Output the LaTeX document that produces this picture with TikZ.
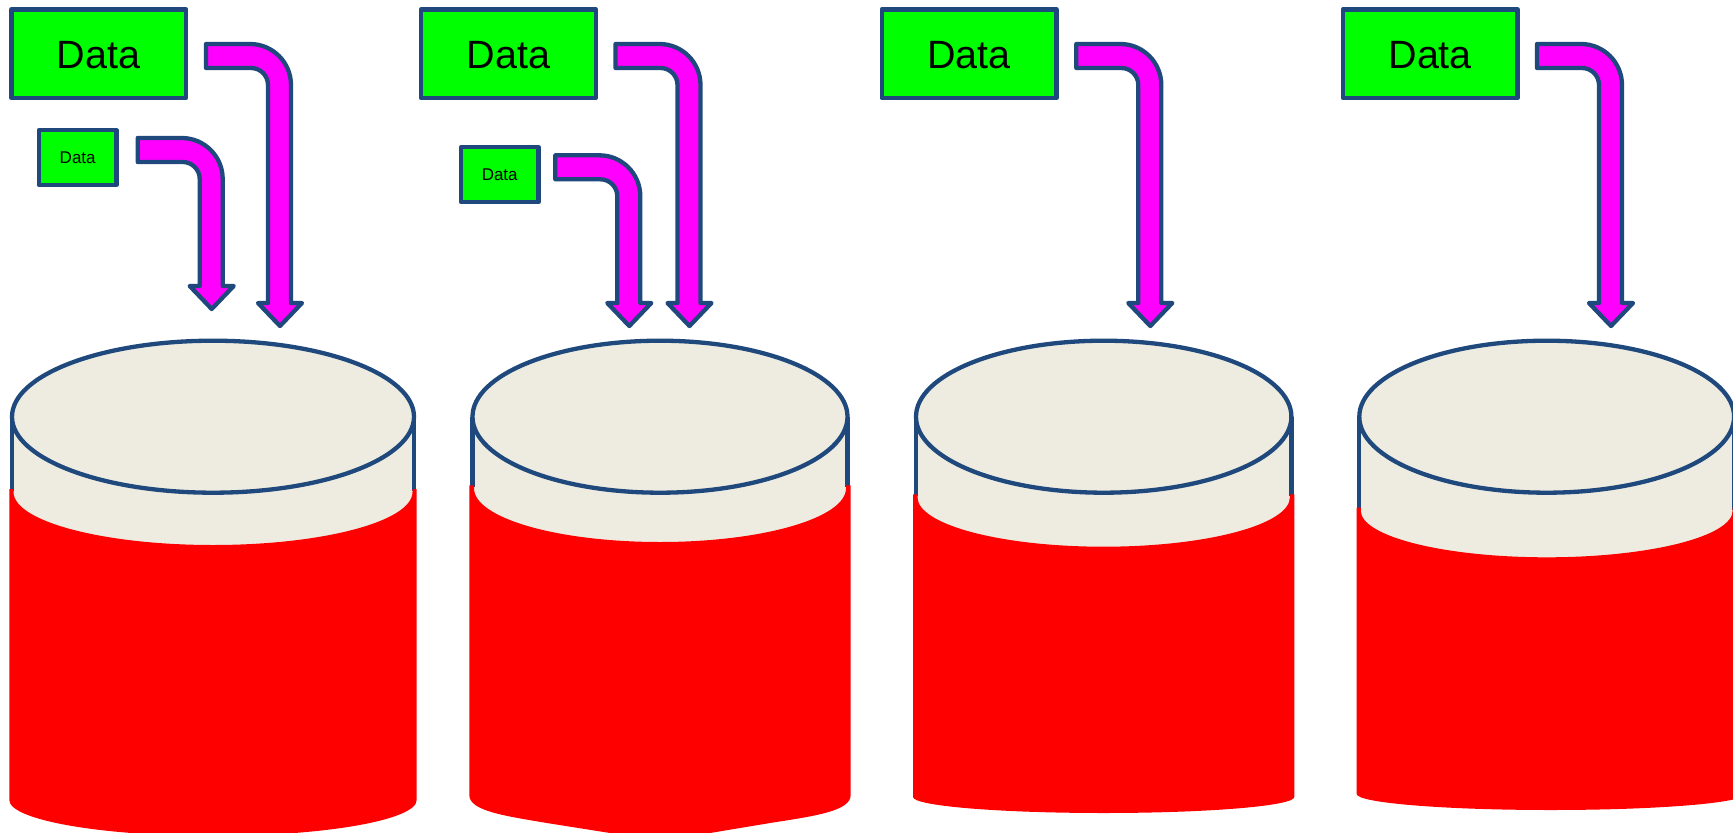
\documentclass[tikz,border=0pt]{standalone}
\usepackage{fontspec}
\setmainfont{Liberation Sans}
\usetikzlibrary{shapes.geometric}
\definecolor{navy}{HTML}{1F497D}
\definecolor{beige}{HTML}{EEECE1}
\definecolor{limeg}{HTML}{00FF00}
\definecolor{magen}{HTML}{FF00FF}
\definecolor{redd}{HTML}{FF0000}
\tikzset{
  bigbox/.style={draw=navy,fill=limeg,line width=4.3pt,line join=round,inner sep=0pt,minimum width=174.7pt,minimum height=88.7pt,text height=29.2pt,text depth=0pt,font=\fontsize{39.5}{39.5}\selectfont},
  smallbox/.style={draw=navy,fill=limeg,line width=4.3pt,line join=round,inner sep=0pt,minimum width=77.3pt,minimum height=55pt,text height=11pt,text depth=0pt,font=\fontsize{17}{17}\selectfont},
  blockarrow/.style={draw=navy,fill=magen,line width=4.3pt,line join=round},
  topface/.style={draw=navy,fill=beige,line width=4.3pt},
  wall/.style={draw=navy,line width=4.3pt},
  redbody/.style={fill=redd,draw=none}
}
% #1 tail left x, #2 tail top y, #3 tip y
\newcommand{\bentarrow}[3]{%
  \draw[blockarrow] (#1,#2) -- ++(44,0) arc[start angle=-90,end angle=0,radius=41]
    -- (#1+85,#3-23) -- (#1+96,#3-23) -- (#1+74,#3) -- (#1+52,#3-23) -- (#1+62,#3-23)
    -- (#1+62,#2+41) arc[start angle=0,end angle=-90,radius=17] -- (#1,#2+24) -- cycle;
}
% #1 cx, #2 rx, #3 red left, #4 red right, #5 red top, #6 concave bottom, #7 bottom path, #8 name
\newcommand{\drum}[8]{%
  \fill[beige] (#1-#2,416.7) rectangle (#1+#2,#6+2);
  \draw[wall] (#1-#2,416.7) -- (#1-#2,#5+2);
  \draw[wall] (#1+#2,416.7) -- (#1+#2,#5+2);
  \fill[redbody] (#3,#5) -- (#1-#2+1.5,#5) -- (#1-#2+1.5,#5+3)
    arc[start angle=180,end angle=0,x radius=#2-1.5,y radius=#6-#5-3]
    -- (#1+#2-1.5,#5) -- (#4,#5) -- #7 -- cycle;
  \node[topface,ellipse,inner sep=0pt,minimum width=2*#2*1pt,minimum height=152pt] (#8) at (#1,416.7) {};
}
\begin{document}
\begin{tikzpicture}[x=1pt,y=-1pt]
\useasboundingbox (0,0) rectangle (1733,833);
\clip (0,0) rectangle (1733,833);
\fill[white] (0,0) rectangle (1733,833);

\drum{213}{201}{9.3}{416.7}{489}{545}
  {(416.7,800) arc[start angle=0,end angle=180,x radius=203.7,y radius=36]}{d1}
\drum{660}{187.5}{469.3}{850.7}{485.3}{542}
  {(850.7,795) .. controls (850.7,811) and (815,816) .. (770,823) -- (710,833) .. controls (690,837) and (630,837) .. (610,833) -- (550,823.5) .. controls (505,816) and (469.3,811) .. (469.3,795)}{d2}
\drum{1103.7}{187.7}{913}{1294.3}{494.3}{546.7}
  {(1294.3,797) arc[start angle=0,end angle=180,x radius=190.65,y radius=16]}{d3}
\drum{1546.7}{187.4}{1356.7}{1745}{507.7}{557.3}
  {(1745,794) arc[start angle=0,end angle=180,x radius=194.15,y radius=16]}{d4}

\node[bigbox] (b1) at (98.7,53.7) {Data};
\node[bigbox] (b2) at (508.4,53.7) {Data};
\node[bigbox] (b3) at (969,53.7) {Data};
\node[bigbox] (b4) at (1430.2,53.7) {Data};
\node[smallbox] (s1) at (77.7,157.5) {Data};
\node[smallbox] (s2) at (499.7,174.7) {Data};

\bentarrow{206}{44}{326}
\bentarrow{137.7}{138}{309}
\bentarrow{615.5}{44}{326}
\bentarrow{555.3}{155.3}{326}
\bentarrow{1076.3}{44}{326}
\bentarrow{1537}{44}{326}
\end{tikzpicture}
\end{document}
